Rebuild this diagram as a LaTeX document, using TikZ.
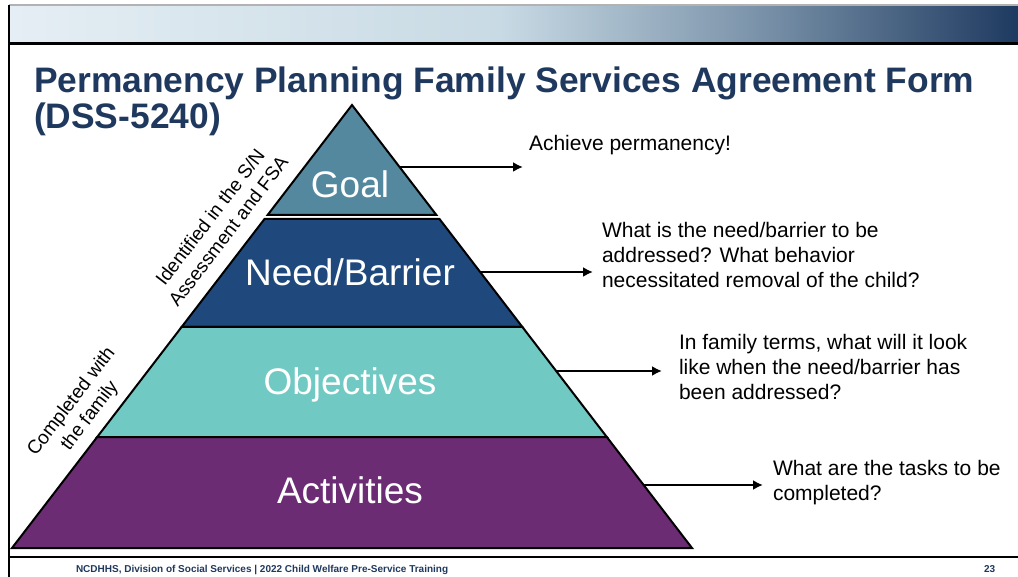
\documentclass[tikz,border=0pt]{standalone}
\usepackage{fontspec}
\setmainfont{Liberation Sans}
\usetikzlibrary{shapes, arrows.meta, positioning}
\definecolor{goalblue}{RGB}{84,136,158}
\definecolor{needblue}{RGB}{31,73,125}
\definecolor{objteal}{RGB}{113,201,196}
\definecolor{actpurple}{RGB}{108,44,116}
\definecolor{titlenavy}{RGB}{31,56,94}
\definecolor{barlight}{RGB}{229,238,244}
\definecolor{barmid}{RGB}{200,218,228}
\definecolor{barsteel}{RGB}{122,146,169}
\definecolor{bardark}{RGB}{30,58,96}

\begin{document}
\begin{tikzpicture}[x=0.5pt, y=-0.5pt, >={Latex[length=5pt, width=5pt]}, line width=1pt]

\tikzstyle{layer} = [draw=black, line width=1pt, line join=miter]
\tikzstyle{layer_label} = [text=white, anchor=base, font=\fontsize{18.5}{22}\selectfont]
\tikzstyle{note} = [anchor=west, align=left, inner sep=0pt, font=\fontsize{10.5}{12.5}\selectfont]
\tikzstyle{side_note} = [align=center, rotate=52.5, inner sep=0pt, font=\fontsize{9.5}{11.5}\selectfont]
\tikzstyle{flow} = [->, line width=1.25pt]
\tikzstyle{footer} = [anchor=base west, inner sep=0pt, text=titlenavy, font=\fontsize{5}{6}\selectfont\bfseries]

\useasboundingbox (0,0) rectangle (1018,577);
\shade[left color=barlight, right color=barmid] (9,6) rectangle (500.5,44);
\shade[left color=barmid, right color=barsteel] (500,6) rectangle (760.5,44);
\shade[left color=barsteel, right color=bardark] (760,6) rectangle (1018,44);
\draw[gray!60, line width=1pt] (9,5.5) -- (1018,5.5);
\draw[line width=1.5pt] (9,44) -- (1018,44);
\draw[line width=1.2pt] (9,5) -- (9,577);
\draw[line width=1.3pt] (9,557) -- (1018,557);

\filldraw[layer, fill=goalblue] (352,105) -- (436.4,215) -- (267.6,215) -- cycle;
\filldraw[layer, fill=needblue] (264.5,219) -- (439.5,219) -- (522.4,327) -- (181.6,327) -- cycle;
\filldraw[layer, fill=objteal] (181.6,327) -- (522.4,327) -- (606.8,437) -- (97.2,437) -- cycle;
\filldraw[layer, fill=actpurple] (97.2,437) -- (606.8,437) -- (692,548) -- (12,548) -- cycle;

\node (title) [anchor=north west, align=left, inner sep=0pt, text=titlenavy, font=\fontsize{17.7}{18}\selectfont\bfseries] at (33,66) {Permanency Planning Family Services Agreement Form\\(DSS-5240)};

\node (goal) [layer_label] at (350,198) {Goal};
\node (need) [layer_label] at (350,285.5) {Need/Barrier};
\node (objectives) [layer_label] at (350,394.5) {Objectives};
\node (activities) [layer_label] at (350,503.5) {Activities};

\node (goal_note) [note] at (528,145.5) {Achieve permanency!};
\node (need_note) [note] at (601,254.5) {What is the need/barrier to be\\addressed? What behavior\\necessitated removal of the child?};
\node (obj_note) [note] at (678,367) {In family terms, what will it look\\like when the need/barrier has\\been addressed?};
\node (act_note) [note] at (772,483) {What are the tasks to be\\completed?};

\node (found_in) [side_note] at (219,224) {Identified in the S/N\\Assessment and FSA};
\node (with_family) [side_note] at (81,409) {Completed with\\the family};

\node (footer_text) [footer] at (75,572) {NCDHHS, Division of Social Services | 2022 Child Welfare Pre-Service Training};
\node (page_no) [footer] at (983,572) {23};

\coordinate (goal_out) at (400,167);
\coordinate (goal_in) at (523,167);
\coordinate (need_out) at (480.2,272);
\coordinate (need_in) at (593,272);
\coordinate (obj_out) at (556.2,371);
\coordinate (obj_in) at (662,371);
\coordinate (act_out) at (643.6,485);
\coordinate (act_in) at (763,485);

\draw [flow] (goal_out) -- (goal_in);
\draw [flow] (need_out) -- (need_in);
\draw [flow] (obj_out) -- (obj_in);
\draw [flow] (act_out) -- (act_in);

\end{tikzpicture}
\end{document}
